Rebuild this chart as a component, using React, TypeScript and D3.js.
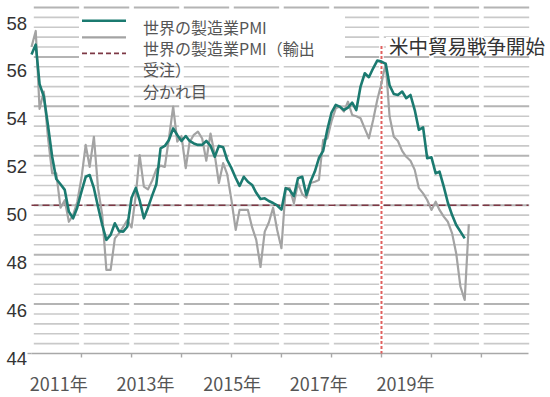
import React, { useEffect, useRef } from 'react'
import * as d3 from 'd3'

// monthly values, starting January 2011
const pmi = [
  56.1, 56.5, 54.9, 54.4, 53.25, 51.96, 51.06, 50.85, 50.62, 49.74,
  49.47, 49.9, 50.55, 51.15, 51.22, 50.69, 49.94, 49.2, 48.6, 48.8,
  49.27, 48.95, 48.93, 49.13, 50.3, 50.7, 50.2, 49.47, 49.9, 50.4,
  50.85, 52.3, 52.4, 52.64, 53.11, 52.84, 52.6, 52.8, 52.6, 52.5,
  52.44, 52.44, 52.6, 52.4, 51.96, 52.4, 52.35, 51.83, 51.5, 51.1,
  50.78, 51.15, 50.95, 50.82, 50.5, 50.25, 50.28, 50.17, 50.09, 49.99,
  49.82, 50.69, 50.62, 50.37, 51.09, 51.15, 50.41, 50.96, 51.36, 51.91,
  52.2, 53.05, 53.75, 54.06, 53.99, 53.85, 53.95, 54.15, 53.85, 54.8,
  55.34, 55.18, 55.54, 55.85, 55.81, 55.72, 54.85, 54.5, 54.46, 54.6,
  54.33, 54.46, 53.85, 53.05, 53.15, 51.9, 51.94, 51.29, 51.36, 50.75,
  50.1, 49.6, 49.2, 48.93, 48.66,
]

const exportOrders = [
  56.4, 57.05, 53.9, 54.6, 52.76, 51.29, 51.29, 49.9, 50.2, 49.33,
  49.6, 50.13, 51.1, 52.44, 51.55, 52.77, 50.69, 49.6, 47.38, 47.38,
  48.66, 48.86, 49.12, 49.4, 49.1, 50.4, 52.03, 50.75, 50.64, 51.0,
  51.45, 51.6, 51.55, 52.7, 53.99, 52.57, 52.8, 51.5, 52.55, 52.85,
  52.98, 52.7, 51.8, 52.9, 52.03, 50.9, 51.7, 51.25, 50.2, 49.0,
  49.81, 49.81, 49.81, 49.1, 48.6, 47.5, 48.93, 49.3, 49.9, 49.0,
  48.26, 50.69, 50.69, 50.08, 50.89, 50.45, 50.3, 50.9, 50.95, 51.02,
  52.64, 52.7, 53.4, 53.92, 53.99, 53.79, 54.19, 53.65, 53.6, 53.52,
  53.1, 52.71, 53.45, 54.26, 54.94, 55.74, 53.6, 52.77, 52.6, 52.2,
  51.96, 51.8, 51.43, 50.69, 50.48, 50.21, 49.81, 50.14, 49.81, 49.54,
  49.33, 48.86, 48.05, 46.7, 46.17, 49.23,
]

const startMonth = new Date(2011, 0, 1)
const endMonth = new Date(2021, 0, 1)
const yearLabels = ['2011年', '2013年', '2015年', '2017年', '2019年']
const yTicks = [44, 46, 48, 50, 52, 54, 56, 58]
const legendLabels = ['世界の製造業PMI', '世界の製造業PMI（輸出', '受注）', '分かれ目']
const threshold = 50
const tradeWarStart = new Date(2018, 0, 1)
const tradeWarLabel = '米中貿易戦争開始'

const FONT = '"Noto Sans CJK JP", "Noto Sans", sans-serif'
const TEAL = '#1b7a70'
const GRAY = '#a3a3a3'
const MAROON = '#7d3845'
const RED = '#e0605e'

const App = () => {
  const ref = useRef<SVGSVGElement>(null)

  useEffect(() => {
    const svg = d3.select(ref.current)
    svg.selectAll('*').remove()

    const x = d3.scaleTime().domain([startMonth, endMonth]).range([31.5, 531.5])
    const y = d3.scaleLinear().domain([44, 58]).range([353.5, 7.5])
    // printed tick numbers sit on their own, slightly compressed scale
    const yLabel = d3.scaleLinear().domain([44, 58]).range([358, 23])
    const xLabel = d3.scalePoint().domain(yearLabels).range([58.8, 405.5])
    const month = (i: number) => d3.timeMonth.offset(startMonth, i)

    // Gridlines, broken at every year tick
    const years = d3.timeYear.range(startMonth, d3.timeYear.offset(endMonth, 1))
    const bands = d3.pairs(years)
    const gridValues = d3.range(1, 36).map(k => 44 + k * 0.4)
    const grid = svg.append('g')
    gridValues.forEach((v, k) => {
      const major = (k + 1) % 5 === 0
      grid.selectAll(null)
        .data(bands)
        .join('line')
          .attr('x1', d => x(d[0]) + 2.3)
          .attr('x2', d => x(d[1]) - 2.3)
          .attr('y1', y(v))
          .attr('y2', y(v))
          .attr('stroke', major ? '#b4b4b4' : '#c9c9c9')
          .attr('stroke-width', major ? 2 : 1.6)
    })

    // white box behind the legend
    svg.append('rect')
      .attr('x', 79).attr('y', 12).attr('width', 266).attr('height', 49)
      .attr('fill', '#fff')
    svg.append('rect')
      .attr('x', 386).attr('y', 37).attr('width', 164).attr('height', 16)
      .attr('fill', '#fff')

    // Bottom axis
    svg.append('line')
      .attr('x1', x(startMonth)).attr('x2', x(endMonth) - 3)
      .attr('y1', y(44)).attr('y2', y(44))
      .attr('stroke', '#a8a8a8').attr('stroke-width', 1.6)
    svg.append('g')
      .selectAll('line')
      .data(years.slice(1, -1))
      .join('line')
        .attr('x1', d => x(d)).attr('x2', d => x(d))
        .attr('y1', y(44)).attr('y2', y(44) + 4)
        .attr('stroke', '#a8a8a8').attr('stroke-width', 1.4)
    svg.append('line')
      .attr('x1', x(startMonth) - 4).attr('x2', x(startMonth))
      .attr('y1', y(44)).attr('y2', y(44))
      .attr('stroke', '#a8a8a8').attr('stroke-width', 1.4)

    svg.append('g')
      .selectAll('text')
      .data(yTicks)
      .join('text')
        .attr('x', 27)
        .attr('y', d => yLabel(d))
        .attr('text-anchor', 'end')
        .attr('dominant-baseline', 'central')
        .attr('font-family', '"Liberation Sans", Arial, sans-serif')
        .attr('font-size', 18.5)
        .attr('fill', '#333')
        .text(d => d)

    svg.append('g')
      .selectAll('text')
      .data(yearLabels)
      .join('text')
        .attr('x', d => xLabel(d) ?? 0)
        .attr('y', 383)
        .attr('text-anchor', 'middle')
        .attr('dominant-baseline', 'central')
        .attr('font-size', 18)
        .attr('fill', '#555')
        .text(d => d)

    // 50 = dividing line
    svg.append('line')
      .attr('x1', x(startMonth)).attr('x2', x(endMonth) - 3)
      .attr('y1', y(threshold)).attr('y2', y(threshold))
      .attr('stroke', MAROON).attr('stroke-width', 1.6)
      .attr('stroke-dasharray', '7,4')

    // trade war marker
    svg.append('line')
      .attr('x1', x(tradeWarStart)).attr('x2', x(tradeWarStart))
      .attr('y1', 46).attr('y2', y(44))
      .attr('stroke', RED).attr('stroke-width', 2)
      .attr('stroke-dasharray', '3,2')
    svg.append('text')
      .attr('x', 389).attr('y', 45)
      .attr('dominant-baseline', 'central')
      .attr('font-size', 19.5)
      .attr('fill', '#333')
      .text(tradeWarLabel)

    // Series
    const line = d3.line<number>()
      .x((d, i) => x(month(i)))
      .y(d => y(d))

    svg.append('path')
      .datum(exportOrders)
      .attr('d', line)
      .attr('fill', 'none')
      .attr('stroke', GRAY)
      .attr('stroke-width', 2.2)
      .attr('stroke-linejoin', 'round')

    svg.append('path')
      .datum(pmi)
      .attr('d', line)
      .attr('fill', 'none')
      .attr('stroke', TEAL)
      .attr('stroke-width', 2.6)
      .attr('stroke-linejoin', 'round')

    // Legend
    const legend = svg.append('g')
    const keys = [
      { y: 20.7, color: TEAL, dash: null, width: 2.6 },
      { y: 37.3, color: GRAY, dash: null, width: 2.2 },
      { y: 53.3, color: MAROON, dash: '5,3', width: 1.8 },
    ]
    legend.selectAll('line')
      .data(keys)
      .join('line')
        .attr('x1', 82).attr('x2', 126)
        .attr('y1', d => d.y).attr('y2', d => d.y)
        .attr('stroke', d => d.color)
        .attr('stroke-width', d => d.width)
        .attr('stroke-dasharray', d => d.dash)
    legend.selectAll('text')
      .data(legendLabels)
      .join('text')
        .attr('x', 143)
        .attr('y', (d, i) => 27 + i * 21.2)
        .attr('dominant-baseline', 'central')
        .attr('font-size', 16)
        .attr('fill', '#555')
        .text(d => d)
  }, [])

  return (
    <svg
      ref={ref}
      width={550}
      height={397}
      style={{ position: 'absolute', left: 0, top: 0, background: '#fff', fontFamily: FONT }}
    />
  )
}

export default App
